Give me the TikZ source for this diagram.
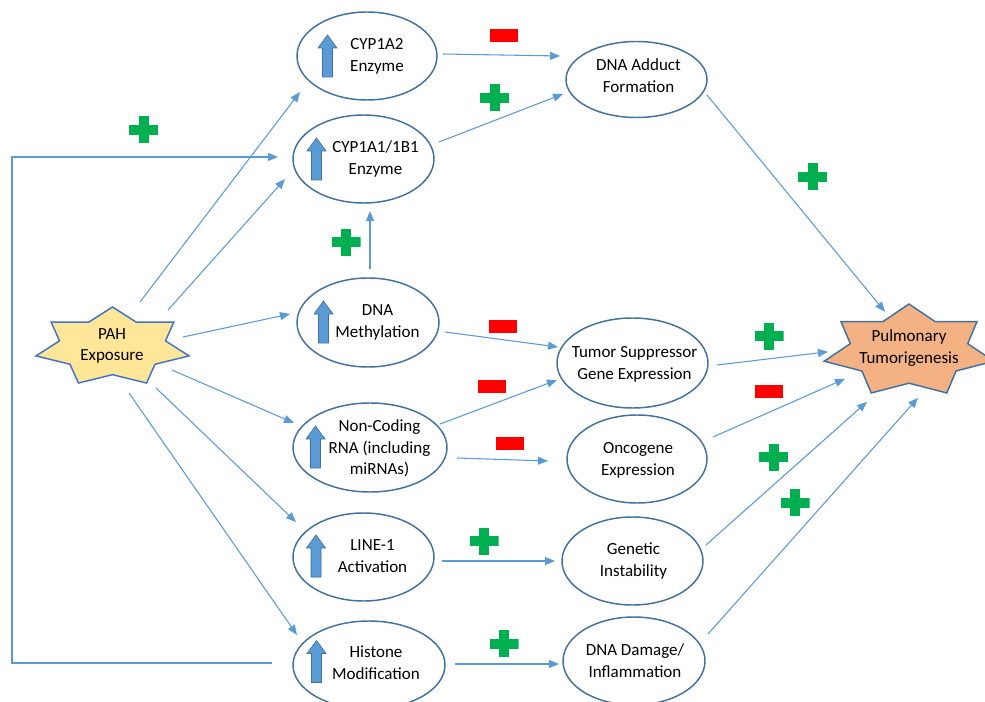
\documentclass[tikz,border=0pt]{standalone}
\usepackage{fontspec}
\setmainfont{Carlito}
\usetikzlibrary{shapes.geometric,arrows.meta,calc}
\definecolor{conn}{HTML}{5B9BD5}
\definecolor{ovalc}{HTML}{41719C}
\definecolor{pahfill}{HTML}{FFE699}
\definecolor{pahline}{HTML}{4472C4}
\definecolor{pulmfill}{HTML}{F4B183}
\definecolor{pulmline}{HTML}{41719C}
\definecolor{plusg}{HTML}{00B050}
\definecolor{minusr}{HTML}{FF0000}
\newcommand{\uparrglyph}[3]{%
  \begin{scope}[shift={($(#1)+(#2,#3)$)}]
    \filldraw[fill=conn,draw=ovalc,line width=0.5pt]
      (-5,21) -- (-5,-8) -- (-9.5,-8) -- (0,-21) -- (9.5,-8) -- (5,-8) -- (5,21) -- cycle;
  \end{scope}}
\begin{document}
\begin{tikzpicture}[x=0.75pt,y=-0.75pt,
  oval/.style 2 args={ellipse, draw=ovalc, line width=1.1pt, inner sep=0pt,
    minimum width=#1*0.75pt, minimum height=#2*0.75pt},
  lbl/.style={align=center, font=\fontsize{12.75}{16.3}\selectfont, inner sep=0pt, text=black},
  arr/.style={draw=conn, line width=0.8pt, -{Triangle[length=7.5pt,width=6pt]}},
  minussign/.style={fill=minusr, draw=none, inner sep=0pt, minimum width=21pt, minimum height=9.75pt},
  plussign/.style={draw=none, inner sep=0pt, minimum width=21.75pt, minimum height=20.25pt,
    path picture={
      \fill[plusg] ($(path picture bounding box.center)+(-10.875pt,-3.75pt)$) rectangle ($(path picture bounding box.center)+(10.875pt,3.75pt)$);
      \fill[plusg] ($(path picture bounding box.center)+(-3.75pt,-10.125pt)$) rectangle ($(path picture bounding box.center)+(3.75pt,10.125pt)$);}}
]
\useasboundingbox (0,0) rectangle (985,702);
\fill[white] (0,0) rectangle (985,702);
\clip (0,0) rectangle (985,702);

% stars
\draw[fill=pahfill, draw=pahline, line width=1.1pt]
  plot[variable=\k, samples at={0,...,13}]
  ({112.5+78.5*(1-0.308*mod(\k,2))*cos(90+25.7143*\k)}, {347-40*(1-0.308*mod(\k,2))*sin(90+25.7143*\k)}) -- cycle;
\coordinate (pahc) at (112.5,347);
\node[lbl] (pah) at (112,346) {PAH\\Exposure};

\draw[fill=pulmfill, draw=pulmline, line width=1.1pt]
  plot[variable=\k, samples at={0,...,13}]
  ({909+87*(1-0.308*mod(\k,2))*cos(90+25.7143*\k)}, {350.8-46.8*(1-0.308*mod(\k,2))*sin(90+25.7143*\k)}) -- cycle;
\coordinate (pulmc) at (909,350.8);
\node[lbl] (pulm) at (909,348) {Pulmonary\\Tumorigenesis};

% middle column
\node[oval={140}{88}] (cypa2) at (367,56) {};
\node[oval={141}{88}] (cypb) at (363.5,159) {};
\node[oval={142}{89}] (meth) at (368,322.5) {};
\node[oval={154}{89}] (ncrna) at (370,447.5) {};
\node[oval={141}{88}] (line1) at (363.5,557) {};
\node[oval={152}{88}] (histone) at (369,665) {};

\node[lbl] (cypa2-t) at ($(cypa2)+(10,0)$) {CYP1A2\\Enzyme};
\node[lbl] (cypb-t) at ($(cypb)+(12,0)$) {CYP1A1/1B1\\Enzyme};
\node[lbl] (meth-t) at ($(meth)+(9.5,0)$) {DNA\\Methylation};
\node[lbl] (ncrna-t) at ($(ncrna)+(9.5,1)$) {Non-Coding\\RNA (including\\miRNAs)};
\node[lbl] (line1-t) at ($(line1)+(9,-1)$) {LINE-1\\Activation};
\node[lbl] (histone-t) at ($(histone)+(7,-2)$) {Histone\\Modification};

\uparrglyph{cypa2}{-39.5}{0}
\uparrglyph{cypb}{-47}{0}
\uparrglyph{meth}{-44.5}{-0.5}
\uparrglyph{ncrna}{-54.5}{-0.5}
\uparrglyph{line1}{-47.5}{-1}
\uparrglyph{histone}{-52.5}{-3.5}

% right column
\node[oval={141}{76}] (adduct) at (636.5,79.5) {};
\node[oval={151}{90}] (ts) at (632.5,363) {};
\node[oval={140}{88}] (onco) at (637,459) {};
\node[oval={141}{88}] (genetic) at (632.5,561) {};
\node[oval={142}{88}] (damage) at (634,661) {};

\node[lbl] (adduct-t) at ($(adduct)+(2,-4)$) {DNA Adduct\\Formation};
\node[lbl] (ts-t) at ($(ts)+(2,1)$) {Tumor Suppressor\\Gene Expression};
\node[lbl] (onco-t) at ($(onco)+(1,1)$) {Oncogene\\Expression};
\node[lbl] (genetic-t) at ($(genetic)+(1,0)$) {Genetic\\Instability};
\node[lbl] (damage-t) at ($(damage)+(1,0)$) {DNA Damage/\\Inflammation};

% connectors from PAH
\draw[arr] ($(pahc)+(27.5,-45)$) -- ($(cypa2)+(-67,36)$);
\draw[arr] ($(pahc)+(55.5,-37)$) -- ($(cypb)+(-78.5,20)$);
\draw[arr] ($(pahc)+(70.5,-10)$) -- ($(meth)+(-78,-8.5)$);
\draw[arr] ($(pahc)+(59.5,23)$) -- ($(ncrna)+(-76,-24.5)$);
\draw[arr] ($(pahc)+(43.5,41)$) -- ($(line1)+(-67.5,-35)$);
\draw[arr] ($(pahc)+(16.5,46)$) -- ($(histone)+(-72,-30)$);

% feedback loop
\coordinate (fbl) at (12,663);
\coordinate (ftl) at (12,157);
\draw[arr] ($(histone)+(-97,-2)$) -- (fbl) -- (ftl) -- ($(cypb)+(-85.5,-2)$);

% middle to right
\draw[arr] ($(cypa2)+(76,-2)$) -- ($(adduct)+(-76.5,-23.5)$);
\draw[arr] ($(cypb)+(75.5,-17)$) -- ($(adduct)+(-73.5,14.5)$);
\draw[arr] ($(meth)+(2,-53.5)$) -- ($(cypb)+(6.5,52)$);
\draw[arr] ($(meth)+(77,9.5)$) -- ($(ts)+(-74.5,-16)$);
\draw[arr] ($(ncrna)+(70,-23.5)$) -- ($(ts)+(-75.5,17)$);
\draw[arr] ($(ncrna)+(87,10.5)$) -- ($(onco)+(-89,2)$);
\draw[arr] ($(line1)+(78.5,4)$) -- ($(genetic)+(-77.5,0)$);
\draw[arr] ($(histone)+(86,-1)$) -- ($(damage)+(-75,3)$);

% right to pulmonary
\draw[arr] ($(adduct)+(70.5,15.5)$) -- ($(pulmc)+(-24,-39)$);
\draw[arr] ($(ts)+(84.5,2)$) -- ($(pulmc)+(-81,1)$);
\draw[arr] ($(onco)+(76,-22)$) -- ($(pulmc)+(-64,28)$);
\draw[arr] ($(genetic)+(73.5,-16)$) -- ($(pulmc)+(-42,51)$);
\draw[arr] ($(damage)+(74,-27)$) -- ($(pulmc)+(9,47)$);

% signs
\node[minussign] (m1) at (504,35.5) {};
\node[minussign] (m2) at (503,326) {};
\node[minussign] (m3) at (492,386.5) {};
\node[minussign] (m4) at (510,443) {};
\node[minussign] (m5) at (769,391) {};
\node[plussign] (p1) at (494.5,98) {};
\node[plussign] (p2) at (143.5,130) {};
\node[plussign] (p3) at (346,242.5) {};
\node[plussign] (p4) at (484,541) {};
\node[plussign] (p5) at (504,643.5) {};
\node[plussign] (p6) at (812.5,177) {};
\node[plussign] (p7) at (769,336) {};
\node[plussign] (p8) at (773.5,457) {};
\node[plussign] (p9) at (795,502.5) {};
\end{tikzpicture}
\end{document}
